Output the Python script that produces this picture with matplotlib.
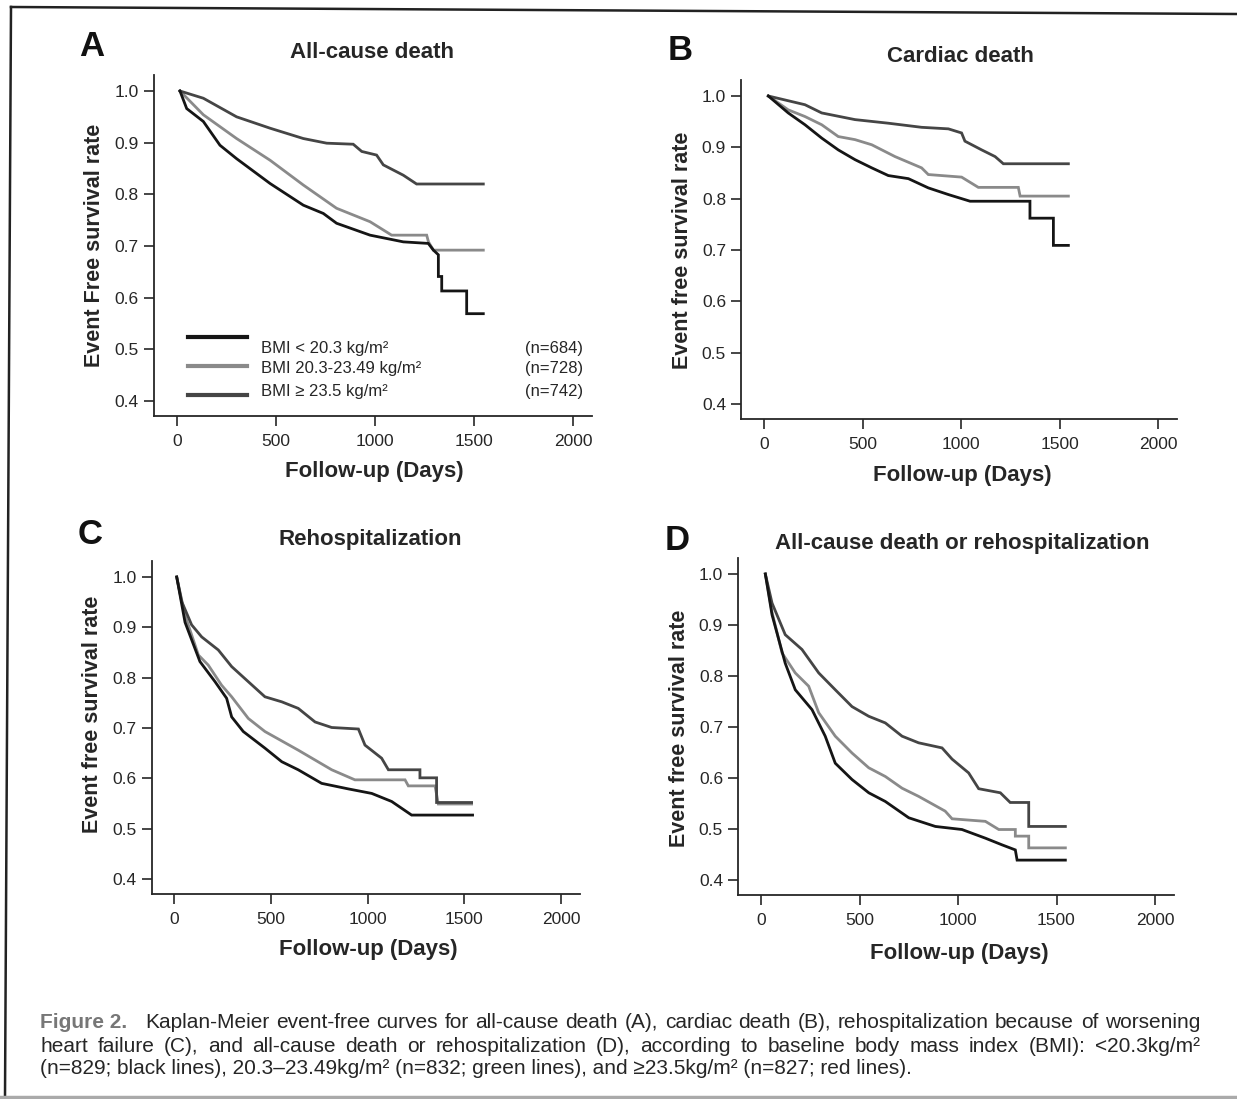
import numpy as np
import matplotlib
matplotlib.use('Agg')
import matplotlib.pyplot as plt
from matplotlib.lines import Line2D

W, H = 1237, 1099
plt.rcParams['font.family'] = ['Liberation Sans', 'DejaVu Sans']

# colours (the print is greyscale)
col_low, col_mid, col_high = '#151515', '#8a8a8a', '#454545'
ink = '#262626'

day_ticks = [0, 500, 1000, 1500, 2000]
rate_ticks = [0.4, 0.5, 0.6, 0.7, 0.8, 0.9, 1.0]

group_labels = ['BMI < 20.3 kg/m\u00b2', 'BMI 20.3-23.49 kg/m\u00b2', 'BMI \u2265 23.5 kg/m\u00b2']
group_n = ['(n=684)', '(n=728)', '(n=742)']

# --- A: all-cause death
a_low_days = [15, 49, 133, 217, 301, 470, 638, 739, 806, 975, 1143, 1269, 1295, 1320, 1320, 1337, 1337, 1463, 1463, 1547]
a_low_surv = [1.0, 0.966, 0.941, 0.895, 0.869, 0.821, 0.779, 0.763, 0.744, 0.721, 0.708, 0.705, 0.692, 0.683, 0.641, 0.641, 0.613, 0.613, 0.569, 0.569]
a_mid_days = [15, 133, 301, 470, 638, 806, 975, 1084, 1261, 1270, 1295, 1547]
a_mid_surv = [1.0, 0.954, 0.908, 0.866, 0.818, 0.773, 0.747, 0.721, 0.721, 0.708, 0.692, 0.692]
a_high_days = [15, 133, 301, 470, 638, 756, 890, 933, 1008, 1042, 1143, 1210, 1547]
a_high_surv = [1.0, 0.986, 0.950, 0.928, 0.908, 0.899, 0.897, 0.883, 0.876, 0.857, 0.837, 0.820, 0.820]

# --- B: cardiac death
b_low_days = [22, 123, 208, 293, 377, 462, 547, 631, 733, 834, 936, 1046, 1350, 1350, 1469, 1469, 1545]
b_low_surv = [1.0, 0.967, 0.944, 0.918, 0.895, 0.876, 0.860, 0.845, 0.839, 0.821, 0.808, 0.795, 0.795, 0.762, 0.762, 0.709, 0.709]
b_mid_days = [22, 123, 208, 293, 377, 462, 547, 665, 800, 834, 1003, 1088, 1291, 1300, 1545]
b_mid_surv = [1.0, 0.973, 0.960, 0.944, 0.921, 0.915, 0.905, 0.882, 0.860, 0.847, 0.842, 0.822, 0.822, 0.805, 0.805]
b_high_days = [22, 208, 293, 462, 631, 800, 936, 1003, 1020, 1105, 1173, 1215, 1545]
b_high_surv = [1.0, 0.983, 0.967, 0.954, 0.947, 0.939, 0.936, 0.928, 0.912, 0.895, 0.882, 0.868, 0.868]

# --- C: rehospitalization
c_low_days = [14, 57, 134, 212, 272, 298, 358, 470, 557, 642, 763, 901, 1022, 1125, 1228, 1543]
c_low_surv = [1.0, 0.910, 0.832, 0.792, 0.759, 0.722, 0.693, 0.660, 0.633, 0.617, 0.590, 0.579, 0.570, 0.554, 0.527, 0.527]
c_mid_days = [14, 57, 126, 177, 246, 298, 384, 470, 642, 815, 935, 1194, 1211, 1349, 1366, 1538]
c_mid_surv = [1.0, 0.924, 0.845, 0.825, 0.785, 0.762, 0.719, 0.693, 0.656, 0.617, 0.597, 0.597, 0.585, 0.585, 0.549, 0.549]
c_high_days = [14, 40, 91, 143, 229, 298, 384, 470, 557, 642, 729, 815, 953, 987, 1073, 1108, 1271, 1271, 1357, 1357, 1538]
c_high_surv = [1.0, 0.951, 0.905, 0.881, 0.855, 0.822, 0.792, 0.762, 0.752, 0.739, 0.712, 0.701, 0.698, 0.666, 0.640, 0.617, 0.617, 0.601, 0.601, 0.552, 0.552]

# --- D: all-cause death or rehospitalization
d_low_days = [22, 56, 123, 174, 259, 326, 377, 462, 547, 631, 750, 885, 1020, 1139, 1223, 1291, 1300, 1545]
d_low_surv = [1.0, 0.920, 0.825, 0.773, 0.734, 0.682, 0.629, 0.597, 0.571, 0.554, 0.522, 0.505, 0.499, 0.482, 0.469, 0.459, 0.439, 0.439]
d_mid_days = [22, 56, 107, 174, 242, 293, 377, 462, 547, 631, 716, 800, 935, 970, 1139, 1207, 1291, 1291, 1359, 1359, 1545]
d_mid_surv = [1.0, 0.925, 0.845, 0.806, 0.780, 0.728, 0.682, 0.649, 0.620, 0.603, 0.580, 0.564, 0.535, 0.520, 0.515, 0.499, 0.499, 0.486, 0.486, 0.463, 0.463]
d_high_days = [22, 56, 123, 208, 293, 377, 462, 547, 631, 716, 800, 919, 970, 1054, 1105, 1215, 1265, 1359, 1359, 1545]
d_high_surv = [1.0, 0.943, 0.881, 0.852, 0.806, 0.773, 0.740, 0.721, 0.708, 0.682, 0.669, 0.659, 0.637, 0.610, 0.579, 0.571, 0.552, 0.552, 0.505, 0.505]

XLIM = (-115, 2096)
YLIM = (0.371, 1.031)


def fx(px):
    return px / W


def fy(py):
    return 1 - py / H


def make_axes(fig, x0px, x2000px, y1px, y04px):
    # place axes so that day 0/2000 and rate 1.0/0.4 land where they sit in the print
    sx = (x2000px - x0px) / 2000
    sy = (y04px - y1px) / 0.6
    left = x0px + XLIM[0] * sx
    right = x0px + XLIM[1] * sx
    top = y1px - (YLIM[1] - 1.0) * sy
    bottom = y1px + (1.0 - YLIM[0]) * sy
    ax = fig.add_axes([fx(left), fy(bottom), fx(right - left), (bottom - top) / H])
    ax.set_xlim(*XLIM)
    ax.set_ylim(*YLIM)
    for s in ['top', 'right']:
        ax.spines[s].set_visible(False)
    for s in ['left', 'bottom']:
        ax.spines[s].set_linewidth(1.3)
        ax.spines[s].set_color(ink)
    ax.set_xticks(day_ticks)
    ax.set_yticks(rate_ticks)
    ax.set_yticklabels(['%.1f' % v for v in rate_ticks])
    ax.tick_params(direction='out', length=7, width=1.2, color=ink, labelcolor=ink,
                   labelsize=12.5, pad=4)
    ax.tick_params(axis='x', pad=6)
    return ax


fig = plt.figure(figsize=(W / 100, H / 100), dpi=100)

panels = [
    ('A', 'All-cause death', 'Event Free survival rate', (177, 573, 91, 401),
     (92, 46), (372, 53), (95, 245), (374, 471),
     [(a_low_days, a_low_surv), (a_mid_days, a_mid_surv), (a_high_days, a_high_surv)]),
    ('B', 'Cardiac death', 'Event free survival rate', (764, 1158, 96, 404),
     (680, 50), (960, 56), (683, 250), (962, 475),
     [(b_low_days, b_low_surv), (b_mid_days, b_mid_surv), (b_high_days, b_high_surv)]),
    ('C', 'Rehospitalization', 'Event free survival rate', (174, 561, 577, 879),
     (90, 534), (370, 540), (93, 714), (368, 950),
     [(c_low_days, c_low_surv), (c_mid_days, c_mid_surv), (c_high_days, c_high_surv)]),
    ('D', 'All-cause death or rehospitalization', 'Event free survival rate', (761, 1155, 574, 880),
     (677, 540), (962, 544), (680, 728), (959, 953),
     [(d_low_days, d_low_surv), (d_mid_days, d_mid_surv), (d_high_days, d_high_surv)]),
]

colors = [col_low, col_mid, col_high]
axes = []
for letter, title, ylab, anchors, lpos, tpos, ypos, xpos, series in panels:
    ax = make_axes(fig, *anchors)
    axes.append(ax)
    # draw mid first so the dark curves sit on top
    for i in [1, 2, 0]:
        d, s = series[i]
        ax.plot(d, s, color=colors[i], lw=2.0, solid_joinstyle='miter')
    fig.text(fx(lpos[0]), fy(lpos[1]), letter, fontsize=25, fontweight='bold',
             color='#111111', ha='center', va='center')
    fig.text(fx(tpos[0]), fy(tpos[1]), title, fontsize=16, fontweight='bold',
             color=ink, ha='center', va='center')
    fig.text(fx(ypos[0]), fy(ypos[1]), ylab, fontsize=15.5, fontweight='bold',
             color=ink, ha='center', va='center', rotation=90)
    fig.text(fx(xpos[0]), fy(xpos[1]), 'Follow-up (Days)', fontsize=16, fontweight='bold',
             color=ink, ha='center', va='center')

# legend drawn by hand in panel A (lines sit a little off their labels, as printed)
leg_line_y = [337, 366, 395]
leg_text_y = [348, 369, 391]
for i in range(3):
    fig.add_artist(Line2D([fx(188), fx(247)], [fy(leg_line_y[i])] * 2, color=colors[i], lw=3.0))
    fig.text(fx(261), fy(leg_text_y[i]), group_labels[i], fontsize=12, color=ink,
             ha='left', va='center')
    fig.text(fx(583), fy(leg_text_y[i]), group_n[i], fontsize=12, color=ink,
             ha='right', va='center')

# page frame (the scan is slightly skewed)
fig.add_artist(Line2D([fx(11), fx(W)], [fy(7), fy(14)], color='#222222', lw=1.8))
fig.add_artist(Line2D([fx(11), fx(5)], [fy(7), fy(1097)], color='#222222', lw=1.8))
fig.add_artist(Line2D([fx(0), fx(W)], [fy(1097), fy(1097)], color='#aaaaaa', lw=2.5))

# caption, justified word by word on the first two lines
cap_size = 15
cap_lines = [
    (145, 1200, 1022, 'Kaplan-Meier event-free curves for all-cause death (A), cardiac death (B), rehospitalization because of worsening', True),
    (40, 1200, 1046, 'heart failure (C), and all-cause death or rehospitalization (D), according to baseline body mass index (BMI): <20.3kg/m\u00b2', True),
    (40, 1200, 1068, '(n=829; black lines), 20.3\u201323.49kg/m\u00b2 (n=832; green lines), and \u226523.5kg/m\u00b2 (n=827; red lines).', False),
]
fig.text(fx(40), fy(1022), 'Figure 2.', fontsize=cap_size, fontweight='bold', color='#777777',
         ha='left', va='center', family=['Liberation Sans Narrow', 'Liberation Sans', 'DejaVu Sans'])

renderer = fig.canvas.get_renderer()
for x0, x1, y, line, justify in cap_lines:
    if not justify:
        fig.text(fx(x0), fy(y), line, fontsize=cap_size, color=ink, ha='left', va='center')
        continue
    words = line.split(' ')
    texts = [fig.text(0, fy(y), w, fontsize=cap_size, color=ink, ha='left', va='center') for w in words]
    widths = [t.get_window_extent(renderer).width for t in texts]
    gap = (x1 - x0 - sum(widths)) / (len(words) - 1)
    x = x0
    for t, w in zip(texts, widths):
        t.set_x(fx(x))
        x += w + gap

fig.savefig('out.png', dpi=100)
